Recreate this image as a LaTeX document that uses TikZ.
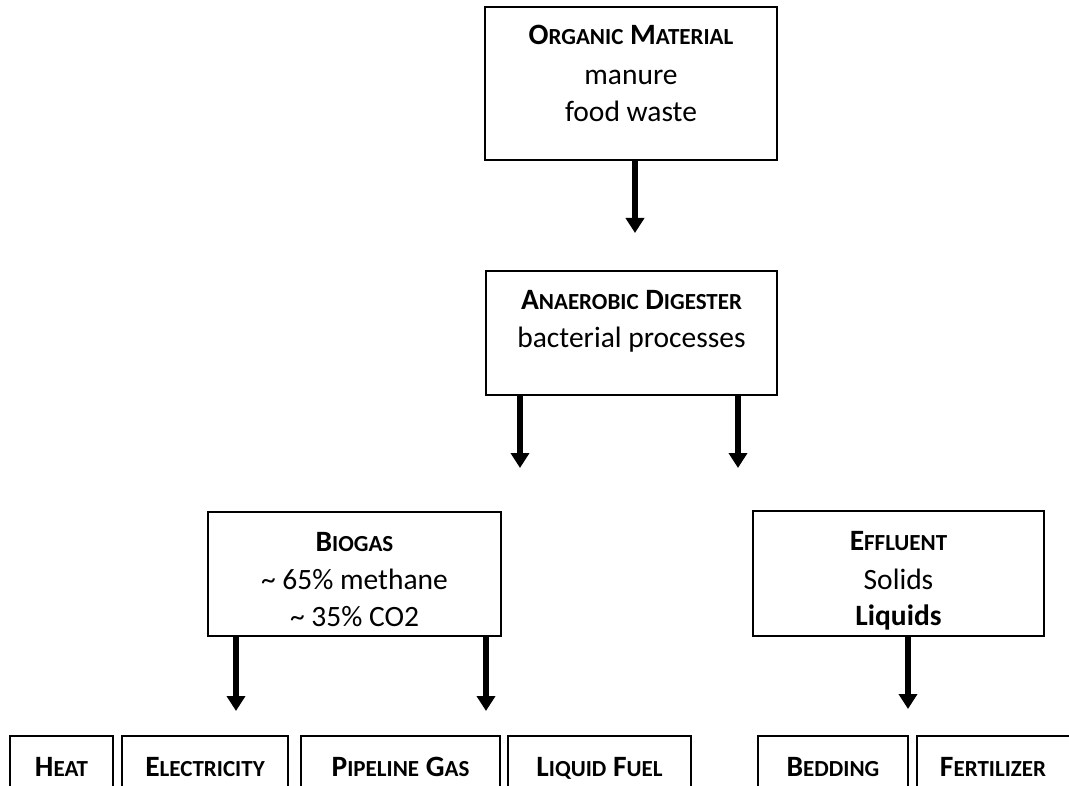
\documentclass[tikz,border=0pt]{standalone}
\usepackage{fontspec}
\setmainfont{Carlito}
\usetikzlibrary{arrows.meta}
\newcommand\smc[1]{{\fontsize{23}{38}\selectfont #1}}
\begin{document}
\begin{tikzpicture}[x=1pt,y=-1pt,
  box/.style={draw, line width=2pt, inner sep=0pt},
  txt/.style={inner sep=0pt, anchor=base, font=\fontsize{29.5}{38}\selectfont},
  ttl/.style={txt, font=\fontsize{29.5}{38}\selectfont\bfseries},
  arr/.style={line width=5.5pt, -{Triangle[width=18pt,length=15pt]}}]
\useasboundingbox (0,0) rectangle (1069,786);
\clip (0,0) rectangle (1069,786);
% boxes
\node[box, minimum width=292, minimum height=153] (om) at (631,83.5) {};
\node[box, minimum width=291, minimum height=124] (ad) at (631.5,333) {};
\node[box, minimum width=293, minimum height=124] (bg) at (354.5,574) {};
\node[box, minimum width=291, minimum height=125] (ef) at (898.5,573.5) {};
\node[box, minimum width=103, minimum height=100] (heat) at (61.5,786) {};
\node[box, minimum width=166, minimum height=100] (elec) at (205,786) {};
\node[box, minimum width=199, minimum height=100] (pipe) at (400.5,786) {};
\node[box, minimum width=183, minimum height=100] (liq) at (599.5,786) {};
\node[box, minimum width=150, minimum height=100] (bed) at (833,786) {};
\node[box, minimum width=156, minimum height=100] (fert) at (995,786) {};
% texts
\node[ttl] (omT) at (631,45) {O\smc{RGANIC} M\smc{ATERIAL}};
\node[txt] (om1) at (631,85) {manure};
\node[txt] (om2) at (631,122) {food waste};
\node[ttl] (adT) at (631.5,310) {A\smc{NAEROBIC} D\smc{IGESTER}};
\node[txt] (ad1) at (631.5,348) {bacterial processes};
\node[ttl] (bgT) at (354.5,551) {B\smc{IOGAS}};
\node[txt] (bg1) at (354.5,589) {\textasciitilde{} 65\% methane};
\node[txt] (bg2) at (354.5,626) {\textasciitilde{} 35\% CO2};
\node[ttl] (efT) at (898.5,550) {E\smc{FFLUENT}};
\node[txt] (ef1) at (898.5,589) {Solids};
\node[ttl] (ef2) at (898.5,625) {Liquids};
\node[ttl] (heatT) at (61.5,776) {H\smc{EAT}};
\node[ttl] (elecT) at (205,776) {E\smc{LECTRICITY}};
\node[ttl] (pipeT) at (400.5,776) {P\smc{IPELINE} G\smc{AS}};
\node[ttl] (liqT) at (599.5,776) {L\smc{IQUID} F\smc{UEL}};
\node[ttl] (bedT) at (833,776) {B\smc{EDDING}};
\node[ttl] (fertT) at (993,776) {F\smc{ERTILIZER}};
% arrow tips
\coordinate (t1) at (635,233);
\coordinate (t2) at (520,468);
\coordinate (t3) at (738,468);
\coordinate (t4) at (236,711);
\coordinate (t5) at (486,711);
\coordinate (t6) at (908,709);
\draw[arr] (om.south -| t1) -- (t1);
\draw[arr] (ad.south -| t2) -- (t2);
\draw[arr] (ad.south -| t3) -- (t3);
\draw[arr] (bg.south -| t4) -- (t4);
\draw[arr] (bg.south -| t5) -- (t5);
\draw[arr] (ef.south -| t6) -- (t6);
\end{tikzpicture}
\end{document}
